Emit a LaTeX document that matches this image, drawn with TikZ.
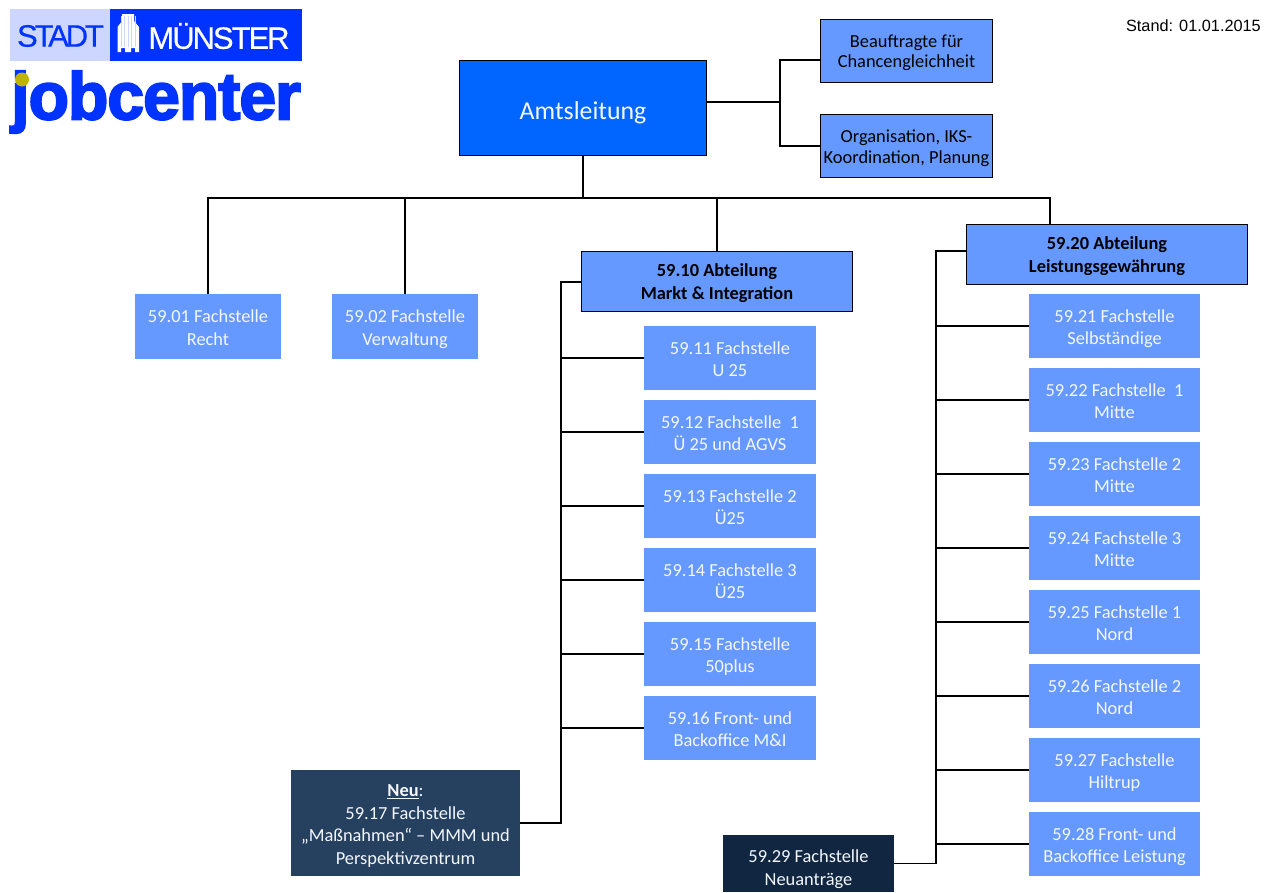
\documentclass[tikz,border=0pt]{standalone}
\usepackage{fontspec}
\setmainfont{Carlito}
\newfontfamily\arialfont{Liberation Sans}
\newfontfamily\logofont[FakeBold=3,LetterSpace=-1.5]{Liberation Sans Bold}
\usetikzlibrary{positioning}
\definecolor{logoblue}{RGB}{0,51,255}
\definecolor{logolight}{RGB}{205,214,255}
\definecolor{logodot}{RGB}{190,180,0}
\definecolor{amtblue}{RGB}{0,102,255}
\definecolor{midblue}{RGB}{102,153,255}
\definecolor{neublue}{RGB}{38,64,96}
\definecolor{darkblue}{RGB}{17,38,64}
\newcommand{\kopf}{\rule{0pt}{20pt}}
\begin{document}
\begin{tikzpicture}[x=1pt,y=-1pt,node distance=74pt]
    \tikzstyle{block} = [rectangle,inner sep=0pt,align=center,text=white!92!midblue,fill=midblue,font=\fontsize{18.4}{22.5}\selectfont,execute at end node={\rule[-5pt]{0pt}{5pt}}]
    \tikzstyle{stelle} = [block,minimum width=172pt,minimum height=64pt]
    \tikzstyle{abteilung} = [block,draw=black,text=black,line width=1pt,font=\fontsize{18.4}{23}\selectfont\bfseries,execute at end node={\rule[-7pt]{0pt}{7pt}}]
    \tikzstyle{stab} = [block,draw=black,text=black,line width=1pt,minimum width=172pt,minimum height=63pt,font=\fontsize{18.4}{20.5}\selectfont,execute at end node={\rule[-6.5pt]{0pt}{6.5pt}}]
    \tikzstyle{line} = [draw=black,line width=1.2pt]
    \useasboundingbox (0,0) rectangle (1274,892);
    % logo
    \fill[logolight] (10,9) rectangle (110,61);
    \fill[logoblue] (110,9) rectangle (302,61);
    \node (stadt) [anchor=center,text=logoblue,font=\arialfont\fontsize{31}{31}\selectfont,inner sep=0pt] at (60.5,36) {\addfontfeature{LetterSpace=-10,FakeBold=0.4}STADT};
    \node (muenster) [anchor=center,text=white,font=\arialfont\fontsize{31}{31}\selectfont,inner sep=0pt] at (219,36) {\addfontfeature{LetterSpace=-6.5,FakeBold=0.4}MÜNSTER};
    \fill[white] (117.5,52) -- (117.5,27) -- (122,21) -- (122,14) -- (134,14) -- (134,21) -- (139,27) -- (139,52) -- (135,52) -- (135,48) -- (131,48) -- (131,52) -- (125,52) -- (125,48) -- (121,48) -- (121,52) -- cycle;
    \foreach \barx in {121,124.5,128,131.5,135}
        \draw[logolight,line width=0.7pt] (\barx,16) -- (\barx,47);
    \node (jobcenter) [anchor=center,text=logoblue,font=\logofont\fontsize{76}{76}\selectfont,inner sep=0pt] at (156,102) {\scalebox{0.87}[0.88]{jobcenter}};
    \fill[logodot] (22,79.5) circle (7);
    \node (stand) [anchor=east,inner sep=0pt,font=\arialfont\fontsize{16.3}{18}\selectfont] at (1261,26) {Stand: 01.01.2015};
    % leitung
    \node (amt) [block,fill=amtblue,draw=black,line width=1pt,minimum width=247pt,minimum height=95pt,font=\fontsize{25.8}{28}\selectfont,execute at end node={\rule[-7pt]{0pt}{7pt}}] at (583,107.5) {\rule{0pt}{30pt}Amtsleitung};
    \node (beauftragte) [stab] at (906.5,50.5) {\kopf Beauftragte für\\Chancengleichheit};
    \node (organisation) [stab] at (906.5,146) {\kopf Organisation, IKS-\\Koordination, Planung};
    % fachstellen oben
    \node (recht) [block,minimum width=146pt,minimum height=65pt] at (208,326.5) {\kopf 59.01 Fachstelle\\Recht};
    \node (verwaltung) [block,minimum width=146pt,minimum height=65pt] at (405,326.5) {\kopf 59.02 Fachstelle\\Verwaltung};
    \node (markt) [abteilung,minimum width=271pt,minimum height=60pt] at (717,281) {\kopf 59.10 Abteilung\\Markt \& Integration};
    \node (leistung) [abteilung,minimum width=281pt,minimum height=60pt] at (1107,254) {\kopf 59.20 Abteilung\\Leistungsgewährung};
    % markt und integration
    \node (s11) [stelle] at (730,358) {\kopf 59.11 Fachstelle\\U 25};
    \node (s12) [stelle,below of=s11] {\kopf 59.12 Fachstelle~ 1\\Ü 25 und AGVS};
    \node (s13) [stelle,below of=s12] {\kopf 59.13 Fachstelle 2\\Ü25};
    \node (s14) [stelle,below of=s13] {\kopf 59.14 Fachstelle 3\\Ü25};
    \node (s15) [stelle,below of=s14] {\kopf 59.15 Fachstelle\\50plus};
    \node (s16) [stelle,below of=s15] {\kopf 59.16 Front- und\\Backoffice M\&I};
    \node (neu) [block,fill=neublue,minimum width=229pt,minimum height=106pt] at (405.5,823) {\kopf\textbf{\underline{Neu}}:\\59.17 Fachstelle\\„Maßnahmen“ – MMM und\\Perspektivzentrum};
    % leistungsgewaehrung
    \node (s21) [stelle,minimum width=171pt] at (1114.5,326) {\kopf 59.21 Fachstelle\\Selbständige};
    \node (s22) [stelle,minimum width=171pt,below of=s21] {\kopf 59.22 Fachstelle~ 1\\Mitte};
    \node (s23) [stelle,minimum width=171pt,below of=s22] {\kopf 59.23 Fachstelle 2\\Mitte};
    \node (s24) [stelle,minimum width=171pt,below of=s23] {\kopf 59.24 Fachstelle 3\\Mitte};
    \node (s25) [stelle,minimum width=171pt,below of=s24] {\kopf 59.25 Fachstelle 1\\Nord};
    \node (s26) [stelle,minimum width=171pt,below of=s25] {\kopf 59.26 Fachstelle 2\\Nord};
    \node (s27) [stelle,minimum width=171pt,below of=s26] {\kopf 59.27 Fachstelle\\Hiltrup};
    \node (s28) [stelle,minimum width=171pt,below of=s27] {\kopf 59.28 Front- und\\Backoffice Leistung};
    \node (s29) [block,fill=darkblue,minimum width=171pt,minimum height=57pt] at (808.5,863.5) {\rule{0pt}{25.5pt}59.29 Fachstelle\\Neuanträge};
    % hilfspunkte
    \coordinate (stabbus) at (780,102);
    \coordinate (bus) at (583,198);
    \coordinate (marktbus) at (561,282);
    \coordinate (leistungbus) at (936,251);
    % verbindungen
    \draw [line] (amt.east |- stabbus) -- (stabbus);
    \draw [line] (beauftragte.west |- 0,60) -| (stabbus);
    \draw [line] (organisation.west) -| (stabbus);
    \draw [line] (amt.south) -- (bus);
    \draw [line] (recht.north) |- (bus);
    \draw [line] (verwaltung.north) |- (bus);
    \draw [line] (markt.north) |- (bus);
    \draw [line] (leistung.north -| 1050,0) |- (bus);
    \draw [line] (markt.west |- marktbus) -- (marktbus) |- (neu.east);
    \draw [line] (marktbus) |- (s11.west);
    \draw [line] (marktbus) |- (s12.west);
    \draw [line] (marktbus) |- (s13.west);
    \draw [line] (marktbus) |- (s14.west);
    \draw [line] (marktbus) |- (s15.west);
    \draw [line] (marktbus) |- (s16.west);
    \draw [line] (leistung.west |- leistungbus) -- (leistungbus) |- (s29.east);
    \draw [line] (leistungbus) |- (s21.west);
    \draw [line] (leistungbus) |- (s22.west);
    \draw [line] (leistungbus) |- (s23.west);
    \draw [line] (leistungbus) |- (s24.west);
    \draw [line] (leistungbus) |- (s25.west);
    \draw [line] (leistungbus) |- (s26.west);
    \draw [line] (leistungbus) |- (s27.west);
    \draw [line] (leistungbus) |- (s28.west);
\end{tikzpicture}
\end{document}
